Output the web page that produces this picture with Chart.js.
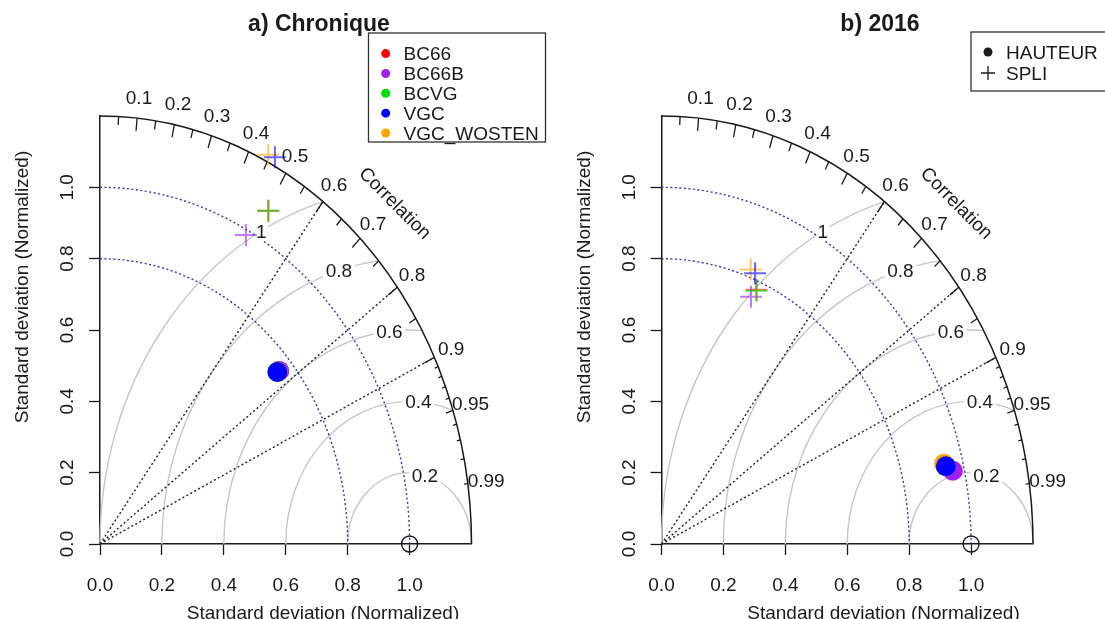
<!DOCTYPE html>
<html>
<head>
<meta charset="utf-8">
<script src="https://cdn.jsdelivr.net/npm/chart.js@4.4.1/dist/chart.umd.min.js"></script>
<style>
    html, body { margin: 0; padding: 0; background: #fff; }
    #wrap { position: relative; width: 1105px; height: 619px; overflow: hidden; }
    canvas { position: absolute; top: 0; }
</style>
</head>
<body>
<div id="wrap">
    <canvas id="chartA" width="560" height="619" style="left:0"></canvas>
    <canvas id="chartB" width="545" height="619" style="left:560px"></canvas>
</div>
<script>
// Modèles et variables
const models = ['BC66', 'BC66B', 'BCVG', 'VGC', 'VGC_WOSTEN'];
const modelColors = ['#FF0000', '#A020F0', '#00E000', '#0000FF', '#FFA500'];
const variables = ['HAUTEUR', 'SPLI'];

// a) Chronique : écart-type normalisé et corrélation
const chroniqueHauteurSd  = [0.755, 0.755, 0.750, 0.749, 0.750];
const chroniqueHauteurCor = [0.766, 0.766, 0.765, 0.765, 0.765];
const chroniqueSpliSd  = [1.081, 0.986, 1.081, 1.223, 1.219];
const chroniqueSpliCor = [0.503, 0.478, 0.503, 0.462, 0.446];

// b) 2016
const annee2016HauteurSd  = [0.944, 0.963, 0.944, 0.944, 0.940];
const annee2016HauteurCor = [0.973, 0.977, 0.973, 0.973, 0.971];
const annee2016SpliSd  = [0.776, 0.751, 0.774, 0.817, 0.822];
const annee2016SpliCor = [0.395, 0.385, 0.397, 0.370, 0.351];

// Axes et grilles du diagramme de Taylor
const sdTicks = [0, 0.2, 0.4, 0.6, 0.8, 1.0];
const corLabels = [0.1, 0.2, 0.3, 0.4, 0.5, 0.6, 0.7, 0.8, 0.9, 0.95, 0.99];
const corBigTicks = [0.1, 0.2, 0.3, 0.4, 0.5, 0.6, 0.7, 0.8, 0.9];
const corMedTicks = [0.05, 0.15, 0.25, 0.35, 0.45, 0.55, 0.65, 0.75, 0.85, 0.95];
const corSmallTicks = [0.91, 0.92, 0.93, 0.94, 0.96, 0.97, 0.98, 0.99];
const rmsLevels = [0.2, 0.4, 0.6, 0.8, 1.0];
const rmsLabels = ['0.2', '0.4', '0.6', '0.8', '1'];
const sdArcs = [0.8, 1.0];
const corRays = [0.6, 0.8, 0.9];

const MAX_SD = 1.2;
const REF_SD = 1.0;

// Style / mise en page
const FONT = "'Liberation Sans', Arial, Helvetica, sans-serif";
const INK = '#1a1a1a';
const FS = 19;
const UNIT_X = 309.6;
const TOP_PAD = 116;
const rmsLabelAngles = [1.32, 1.50, 1.68, 1.86, 2.07];
const drawOrder = [5, 4, 3, 1, 2];

const panels = [
    { canvas: 'chartA', title: 'a) Chronique', originX: 100, width: 560,
      hSd: chroniqueHauteurSd, hCor: chroniqueHauteurCor, sSd: chroniqueSpliSd, sCor: chroniqueSpliCor,
      titleX: 319, xTitleX: 323, legend: 'models' },
    { canvas: 'chartB', title: 'b) 2016', originX: 101.5, width: 545,
      hSd: annee2016HauteurSd, hCor: annee2016HauteurCor, sSd: annee2016SpliSd, sCor: annee2016SpliCor,
      titleX: 320, xTitleX: 323.5, legend: 'variables' }
];

function rgba(hex, a) {
    const n = parseInt(hex.slice(1), 16);
    return `rgba(${(n >> 16) & 255},${(n >> 8) & 255},${n & 255},${a})`;
}

// (sd, cor) -> coordonnées cartésiennes du diagramme
function toXY(sd, cor) {
    return sd.map((s, i) => ({ x: s * cor[i], y: s * Math.sqrt(1 - cor[i] * cor[i]) }));
}

function buildDatasets(p) {
    const h = toXY(p.hSd, p.hCor);
    const s = toXY(p.sSd, p.sCor);
    const out = [];
    models.forEach((m, i) => {
        out.push({
            label: m + ' ' + variables[0], data: [h[i]], pointStyle: 'circle',
            pointRadius: 10, backgroundColor: modelColors[i], borderWidth: 0,
            order: drawOrder[i], clip: false
        });
        out.push({
            label: m + ' ' + variables[1], data: [s[i]], pointStyle: 'cross',
            pointRadius: 11, borderColor: rgba(modelColors[i], 0.6), borderWidth: 2,
            order: drawOrder[i], clip: false
        });
    });
    return out;
}

// texte centré verticalement sur la hauteur des capitales
function capText(ctx, str, x, y, align, size, weight) {
    ctx.font = (weight || 'normal') + ' ' + (size || FS) + 'px ' + FONT;
    ctx.textAlign = align || 'center';
    ctx.textBaseline = 'alphabetic';
    ctx.fillText(str, x, y + 0.358 * (size || FS));
}

const taylorGrid = {
    id: 'taylorGrid',
    beforeDatasetsDraw(chart, args, opts) {
        const { ctx, scales: { x, y } } = chart;
        const ox = x.getPixelForValue(0), oy = y.getPixelForValue(0);
        const kx = x.getPixelForValue(1) - ox, ky = oy - y.getPixelForValue(1);
        const P = (a, b) => [ox + a * kx, oy - b * ky];
        ctx.save();

        // arcs RMS (gris)
        ctx.strokeStyle = '#c6c6c6';
        ctx.lineWidth = 1.4;
        const [cx, cy] = P(REF_SD, 0);
        rmsLevels.forEach(g => {
            const c = (MAX_SD * MAX_SD - REF_SD * REF_SD - g * g) / (2 * g * REF_SD);
            const t0 = c >= 1 ? 0 : Math.acos(Math.max(-1, c));
            const t1 = g > REF_SD ? Math.acos(-REF_SD / g) : Math.PI;
            ctx.beginPath();
            ctx.ellipse(cx, cy, g * kx, g * ky, 0, -t1, -t0);
            ctx.stroke();
        });

        // arcs d'écart-type (bleu pointillé)
        ctx.strokeStyle = 'rgba(40,40,190,0.95)';
        ctx.lineWidth = 1.4;
        ctx.setLineDash([2, 2.5]);
        sdArcs.forEach(r => {
            ctx.beginPath();
            ctx.ellipse(ox, oy, r * kx, r * ky, 0, -Math.PI / 2, 0);
            ctx.stroke();
        });

        // rayons de corrélation
        ctx.strokeStyle = '#222';
        corRays.forEach(c => {
            const [ex, ey] = P(MAX_SD * c, MAX_SD * Math.sqrt(1 - c * c));
            ctx.beginPath();
            ctx.moveTo(ox, oy);
            ctx.lineTo(ex, ey);
            ctx.stroke();
        });
        ctx.setLineDash([]);

        // arc extérieur
        ctx.strokeStyle = INK;
        ctx.lineWidth = 1.5;
        ctx.beginPath();
        ctx.ellipse(ox, oy, MAX_SD * kx, MAX_SD * ky, 0, -Math.PI / 2, 0);
        ctx.stroke();

        // graduations de corrélation
        ctx.lineWidth = 1.3;
        [[corBigTicks, 0.97], [corMedTicks, 0.98], [corSmallTicks, 0.99]].forEach(([list, f]) => {
            list.forEach(c => {
                const s = Math.sqrt(1 - c * c);
                const [ax, ay] = P(MAX_SD * c, MAX_SD * s);
                const [bx, by] = P(MAX_SD * f * c, MAX_SD * f * s);
                ctx.beginPath();
                ctx.moveTo(ax, ay);
                ctx.lineTo(bx, by);
                ctx.stroke();
            });
        });

        // étiquettes de corrélation
        ctx.fillStyle = INK;
        corLabels.forEach(c => {
            const [lx, ly] = P(1.05 * MAX_SD * c, 1.05 * MAX_SD * Math.sqrt(1 - c * c));
            capText(ctx, String(c), lx, ly);
        });

        // étiquettes RMS sur fond blanc
        rmsLevels.forEach((g, i) => {
            const a = rmsLabelAngles[i];
            const [lx, ly] = P(REF_SD + g * Math.cos(a), g * Math.sin(a));
            ctx.font = FS + 'px ' + FONT;
            const w = ctx.measureText(rmsLabels[i]).width * 1.2;
            ctx.fillStyle = '#fff';
            ctx.fillRect(lx - w / 2, ly - 10, w, 20);
            ctx.fillStyle = INK;
            capText(ctx, rmsLabels[i], lx, ly);
        });

        // titre "Correlation"
        const [tx, ty] = P(0.955, 0.957);
        ctx.save();
        ctx.translate(tx, ty);
        ctx.rotate(Math.PI / 4);
        capText(ctx, 'Correlation', 0, 0);
        ctx.restore();

        // point de référence
        const [rx, ry] = P(REF_SD, 0);
        ctx.strokeStyle = INK;
        ctx.lineWidth = 1.4;
        ctx.beginPath();
        ctx.arc(rx, ry, 8, 0, Math.PI * 2);
        ctx.stroke();

        ctx.restore();
    },
    afterDraw(chart, args, opts) {
        const p = panels[opts.panel];
        const { ctx, scales: { y } } = chart;
        const ox = p.originX;
        ctx.save();
        ctx.fillStyle = INK;

        // étiquettes de l'axe Y (verticales)
        sdTicks.forEach(v => {
            ctx.save();
            ctx.translate(ox - 27, y.getPixelForValue(v));
            ctx.rotate(-Math.PI / 2);
            ctx.font = FS + 'px ' + FONT;
            ctx.textAlign = 'center';
            ctx.textBaseline = 'alphabetic';
            ctx.fillText(v.toFixed(1), 0, 0);
            ctx.restore();
        });

        // titres des axes
        ctx.save();
        ctx.translate(ox - 72, 287);
        ctx.rotate(-Math.PI / 2);
        ctx.font = FS + 'px ' + FONT;
        ctx.textAlign = 'center';
        ctx.fillText('Standard deviation (Normalized)', 0, 0);
        ctx.restore();
        capText(ctx, 'Standard deviation (Normalized)', p.xTitleX, 612.5);

        // titre du panneau
        capText(ctx, p.title, p.titleX, 23, 'center', 23, 'bold');

        // légende
        ctx.strokeStyle = '#333';
        ctx.lineWidth = 1.3;
        if (p.legend === 'models') {
            ctx.fillStyle = '#fff';
            ctx.fillRect(368.5, 33, 177, 109);
            ctx.strokeRect(368.5, 33, 177, 109);
            models.forEach((m, i) => {
                const ly = 53.6 + i * 19.85;
                ctx.fillStyle = modelColors[i];
                ctx.beginPath();
                ctx.arc(385.7, ly, 4.5, 0, Math.PI * 2);
                ctx.fill();
                ctx.fillStyle = INK;
                capText(ctx, m, 403.6, ly, 'left');
            });
        } else {
            ctx.fillStyle = '#fff';
            ctx.fillRect(411, 32, 160, 59);
            ctx.strokeRect(411, 32, 160, 59);
            ctx.fillStyle = INK;
            ctx.beginPath();
            ctx.arc(428, 52, 4.5, 0, Math.PI * 2);
            ctx.fill();
            ctx.beginPath();
            ctx.moveTo(421, 73); ctx.lineTo(435, 73);
            ctx.moveTo(428, 66); ctx.lineTo(428, 80);
            ctx.strokeStyle = INK;
            ctx.stroke();
            capText(ctx, variables[0], 446, 52, 'left');
            capText(ctx, variables[1], 446, 73, 'left');
        }
        ctx.restore();
    }
};

function axisOptions(isX, size) {
    return {
        type: 'linear',
        min: 0,
        max: MAX_SD,
        afterFit(s) { if (isX) s.height = size; else s.width = size; },
        afterBuildTicks(s) { s.ticks = sdTicks.map(v => ({ value: v })); },
        border: { display: true, color: INK, width: 1.5 },
        grid: { drawOnChartArea: false, drawTicks: true, tickLength: 11, tickWidth: 1.3, tickColor: INK, color: INK },
        ticks: {
            display: isX, autoSkip: false, maxRotation: 0, minRotation: 0, padding: 19,
            color: INK, font: { family: FONT, size: FS },
            callback: v => Number(v).toFixed(1)
        }
    };
}

panels.forEach((p, idx) => {
    new Chart(document.getElementById(p.canvas), {
        type: 'scatter',
        data: { datasets: buildDatasets(p) },
        options: {
            responsive: false,
            animation: false,
            events: [],
            layout: { padding: { left: 0, top: TOP_PAD, right: p.width - p.originX - MAX_SD * UNIT_X, bottom: 0 } },
            plugins: {
                legend: { display: false },
                tooltip: { enabled: false },
                taylorGrid: { panel: idx }
            },
            scales: {
                x: axisOptions(true, 75),
                y: axisOptions(false, p.originX)
            }
        },
        plugins: [taylorGrid]
    });
});
</script>
</body>
</html>
